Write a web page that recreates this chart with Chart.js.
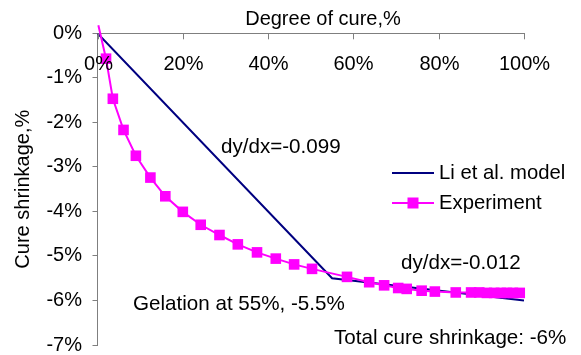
<!DOCTYPE html>
<html>
<head>
<meta charset="utf-8">
<script src="https://cdn.jsdelivr.net/npm/chart.js@4"></script>
<style>
  html, body { margin: 0; padding: 0; background: #fff; }
  #wrap { width: 581px; height: 355px; }
</style>
</head>
<body>
<div id="wrap"><canvas id="chart"></canvas></div>
<script>
// experiment: degree of cure (%) vs cure shrinkage (%)
const expDegree = [0.2, 2.0, 3.6, 6.1, 9.0, 12.4, 15.9, 20.0, 24.2, 28.6, 32.9, 37.4, 41.8, 46.1, 50.3,
    58.5, 63.7, 67.2, 70.5, 72.5, 76.0, 79.1, 84.0, 87.6, 89.5, 91.3, 93.0, 94.6, 96.0, 97.4, 99.0];
const expShrink = [0.18, -0.57, -1.47, -2.17, -2.75, -3.24, -3.66, -4.01, -4.30, -4.53, -4.74, -4.92, -5.06, -5.19, -5.29,
    -5.47, -5.59, -5.66, -5.72, -5.74, -5.78, -5.80, -5.82, -5.82, -5.82, -5.83, -5.83, -5.83, -5.83, -5.83, -5.83];

// Li et al. model
const modelDegree = [0, 55, 100];
const modelShrink = [0, -5.5, -6];

const xTicks = [0, 20, 40, 60, 80, 100];
const yTicks = [0, -1, -2, -3, -4, -5, -6, -7];

const FONT = "'Liberation Sans', Arial, sans-serif";
const axisColor = "#7f7f7f";

const textPlugin = {
    id: "extras",
    afterDraw(chart) {
        const ctx = chart.ctx;
        const xs = chart.scales.x;
        const top = chart.chartArea.top;
        ctx.save();
        // x ticks point inward, labels sit inside the plot
        ctx.strokeStyle = axisColor;
        ctx.lineWidth = 1;
        ctx.fillStyle = "#000";
        ctx.font = "20px " + FONT;
        ctx.textAlign = "center";
        ctx.textBaseline = "middle";
        xTicks.forEach((v) => {
            const px = Math.round(xs.getPixelForValue(v)) + 0.5;
            ctx.beginPath();
            ctx.moveTo(px, top);
            ctx.lineTo(px, top + 6);
            ctx.stroke();
            ctx.fillText(v + "%", px, 64);
        });
        ctx.fillText("Degree of cure,%", 323, 19);

        // annotations
        ctx.font = "20.6px " + FONT;
        ctx.textAlign = "left";
        ctx.fillText("dy/dx=-0.099", 221, 147);
        ctx.fillText("dy/dx=-0.012", 401, 263);
        ctx.fillText("Gelation at 55%, -5.5%", 133, 304);
        ctx.fillText("Total cure shrinkage: -6%", 334, 338);

        // legend
        ctx.lineWidth = 2;
        ctx.strokeStyle = "#000080";
        ctx.beginPath();
        ctx.moveTo(392, 173);
        ctx.lineTo(434, 173);
        ctx.stroke();
        ctx.strokeStyle = "#ff00ff";
        ctx.beginPath();
        ctx.moveTo(392, 203);
        ctx.lineTo(434, 203);
        ctx.stroke();
        ctx.fillStyle = "#ff00ff";
        ctx.fillRect(407.5, 197.5, 11, 11);
        ctx.fillStyle = "#000";
        ctx.font = "20.3px " + FONT;
        ctx.fillText("Li et al. model", 439, 173);
        ctx.fillText("Experiment", 439, 203);
        ctx.restore();
    },
};

new Chart(document.querySelector("#chart"), {
    type: "line",
    data: {
        datasets: [
            {
                label: "Experiment",
                data: expDegree.map((d, i) => ({ x: d, y: expShrink[i] })),
                borderColor: "#ff00ff",
                backgroundColor: "#ff00ff",
                borderWidth: 2,
                pointStyle: "rect",
                pointRadius: expDegree.map((d, i) => (i === 0 ? 0 : 7.5)),
                pointBorderWidth: 0,
                tension: 0,
                clip: false,
                order: 0,
            },
            {
                label: "Li et al. model",
                data: modelDegree.map((d, i) => ({ x: d, y: modelShrink[i] })),
                borderColor: "#000080",
                borderWidth: 2,
                pointRadius: 0,
                tension: 0,
                order: 1,
            },
        ],
    },
    options: {
        responsive: true,
        maintainAspectRatio: false,
        animation: false,
        layout: { padding: { left: 0, top: 0, right: 57, bottom: 10 } },
        plugins: {
            legend: { display: false },
            tooltip: { enabled: false },
        },
        scales: {
            x: {
                type: "linear",
                position: "top",
                min: 0,
                max: 100,
                ticks: { display: false },
                grid: { display: false },
                border: { display: true, color: axisColor, width: 1 },
                afterFit: (scale) => {
                    scale.height = 33.3;
                    scale.paddingLeft = 0;
                    scale.paddingRight = 0;
                },
            },
            y: {
                type: "linear",
                position: "left",
                min: -7,
                max: 0,
                afterBuildTicks: (scale) => {
                    scale.ticks = yTicks.map((v) => ({ value: v }));
                },
                ticks: {
                    color: "#000",
                    font: { family: FONT, size: 20 },
                    padding: 10.5,
                    callback: (v) => v + "%",
                },
                grid: {
                    drawOnChartArea: false,
                    drawTicks: true,
                    tickLength: 5,
                    color: axisColor,
                },
                border: { display: true, color: axisColor, width: 1 },
                title: {
                    display: true,
                    text: "Cure shrinkage,%",
                    color: "#000",
                    font: { family: FONT, size: 20 },
                    padding: { top: 11, bottom: 0 },
                },
                afterFit: (scale) => {
                    scale.width = 97.5;
                    scale.paddingTop = 0;
                    scale.paddingBottom = 0;
                },
            },
        },
    },
    plugins: [textPlugin],
});
</script>
</body>
</html>
